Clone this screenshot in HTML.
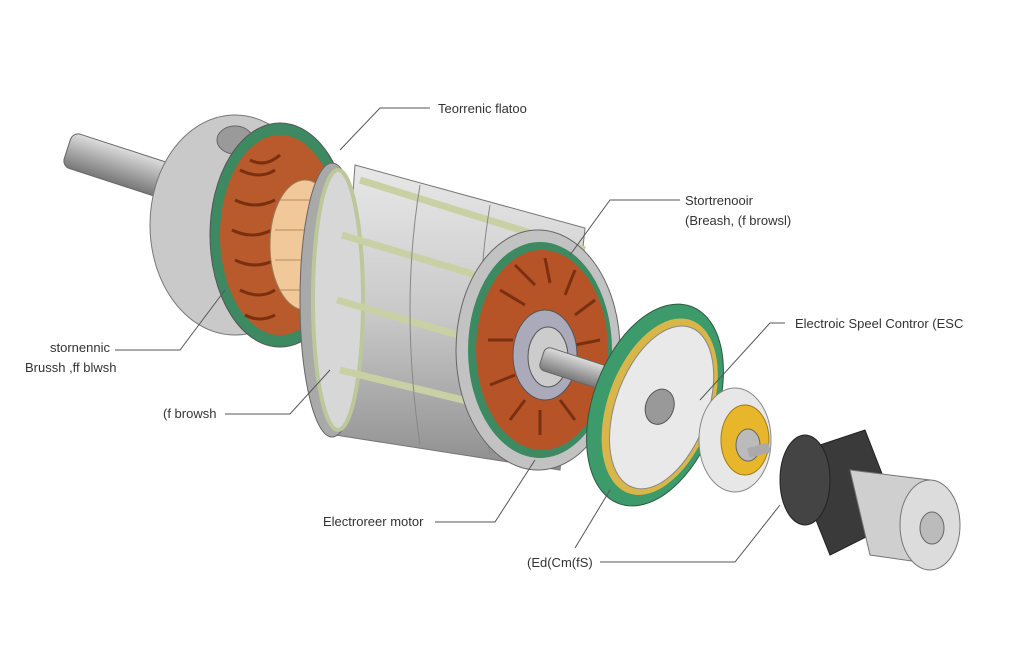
<!DOCTYPE html>
<html><head><style>
body{margin:0;background:#fff;width:1035px;height:665px;overflow:hidden}
svg{display:block}
text{font-family:"Liberation Sans",sans-serif;font-size:13px;fill:#333}
</style></head><body>
<svg width="1035" height="665" viewBox="0 0 1035 665">
<defs>
<linearGradient id="g1" x1="0" y1="0" x2="0" y2="1"><stop offset="0" stop-color="#e8e8e8"/><stop offset=".5" stop-color="#c8c8c8"/><stop offset="1" stop-color="#8e8e8e"/></linearGradient>
<linearGradient id="sh" x1="0" y1="0" x2="0" y2="1"><stop offset="0" stop-color="#ddd"/><stop offset=".5" stop-color="#aaa"/><stop offset="1" stop-color="#777"/></linearGradient>
</defs>
<!-- left shaft -->
<g transform="rotate(18 120 165)"><rect x="65" y="148" width="110" height="36" rx="8" fill="url(#sh)" stroke="#666"/></g>
<!-- left end cap body -->
<ellipse cx="235" cy="225" rx="85" ry="110" fill="#c9c9c9" stroke="#777"/>
<ellipse cx="235" cy="140" rx="18" ry="14" fill="#9a9a9a" stroke="#666"/>
<ellipse cx="280" cy="235" rx="70" ry="112" fill="#3d8a62" stroke="#555"/>
<ellipse cx="280" cy="235" rx="60" ry="100" fill="#b85a2b"/>
<g stroke="#7a3010" stroke-width="3" fill="none">
<path d="M240 170 q20 10 35 0 M235 200 q20 10 40 0 M232 230 q20 10 40 0 M235 260 q20 10 40 0 M240 290 q20 10 35 0 M250 160 q15 8 30 -5 M245 315 q15 8 30 0"/></g>
<!-- commutator -->
<ellipse cx="305" cy="245" rx="35" ry="65" fill="#f0c89a" stroke="#9b7a55"/>
<g stroke="#b98d60"><line x1="280" y1="200" x2="330" y2="200"/><line x1="275" y1="230" x2="335" y2="230"/><line x1="275" y1="260" x2="335" y2="260"/><line x1="280" y1="290" x2="330" y2="290"/></g>
<!-- stator body -->
<path d="M355 165 L585 228 L560 470 L335 435 Z" fill="url(#g1)" stroke="#777"/>
<ellipse cx="332" cy="300" rx="32" ry="137" fill="#a9a9a9" stroke="#666"/>
<ellipse cx="338" cy="300" rx="25" ry="130" fill="#d7d7d7" stroke="#bcc79a" stroke-width="4"/>
<g stroke="#c9d1a4" stroke-width="7" fill="none">
<line x1="360" y1="180" x2="585" y2="250"/><line x1="342" y1="235" x2="560" y2="300"/>
<line x1="337" y1="300" x2="545" y2="360"/><line x1="340" y1="370" x2="545" y2="420"/>
</g>
<g stroke="#888" fill="none"><path d="M420 185 q-20 120 0 260 M490 205 q-20 120 0 250"/></g>
<!-- right face -->
<ellipse cx="538" cy="350" rx="82" ry="120" fill="#c2c2c2" stroke="#666"/>
<ellipse cx="540" cy="350" rx="72" ry="108" fill="#3d8a62"/>
<ellipse cx="542" cy="350" rx="66" ry="100" fill="#b65428"/>
<g stroke="#7a3010" stroke-width="3" fill="none">
<path d="M500 290 l25 15 M515 265 l20 20 M545 258 l5 25 M575 270 l-10 25 M595 300 l-20 15 M600 340 l-25 5 M595 380 l-25 -5 M575 420 l-15 -20 M540 435 l0 -25 M510 420 l15 -20 M490 385 l25 -10 M488 340 l25 0"/></g>
<ellipse cx="545" cy="355" rx="32" ry="45" fill="#aab" stroke="#555"/>
<ellipse cx="548" cy="357" rx="20" ry="30" fill="#ccc" stroke="#555"/>
<g transform="rotate(18 580 370)"><rect x="540" y="358" width="75" height="24" rx="6" fill="url(#sh)" stroke="#666"/></g>
<!-- disc -->
<g transform="rotate(20 655 405)">
<ellipse cx="655" cy="405" rx="62" ry="105" fill="#3d9a6a" stroke="#2d5a40"/>
<ellipse cx="660" cy="405" rx="52" ry="92" fill="#d9b64a"/>
<ellipse cx="662" cy="405" rx="46" ry="85" fill="#e9e9e9" stroke="#888"/>
<ellipse cx="660" cy="405" rx="14" ry="18" fill="#999" stroke="#555"/>
</g>
<!-- gear -->
<ellipse cx="735" cy="440" rx="36" ry="52" fill="#e7e7e7" stroke="#888"/>
<ellipse cx="745" cy="440" rx="24" ry="35" fill="#e8b62a" stroke="#a07a10"/>
<ellipse cx="748" cy="445" rx="12" ry="16" fill="#bbb" stroke="#666"/>
<rect x="748" y="445" width="22" height="10" fill="#aaa" transform="rotate(-15 760 450)"/>
<!-- end unit -->
<path d="M790 455 L865 430 L900 520 L830 555 Z" fill="#3a3a3a" stroke="#222"/>
<ellipse cx="805" cy="480" rx="25" ry="45" fill="#444" stroke="#222"/>
<path d="M850 470 L930 480 L940 565 L870 555 Z" fill="#cfcfcf" stroke="#777"/>
<ellipse cx="930" cy="525" rx="30" ry="45" fill="#dcdcdc" stroke="#777"/>
<ellipse cx="932" cy="528" rx="12" ry="16" fill="#bbb" stroke="#666"/>
<!-- leaders -->
<g stroke="#555" fill="none" stroke-width="1">
<polyline points="430,108 380,108 340,150"/>
<polyline points="680,200 610,200 570,255"/>
<polyline points="785,323 770,323 700,400"/>
<polyline points="115,350 180,350 225,290"/>
<polyline points="225,414 290,414 330,370"/>
<polyline points="435,522 495,522 535,460"/>
<polyline points="600,562 735,562 780,505"/>
<polyline points="575,548 610,490"/>
</g>
<text x="438" y="113">Teorrenic flatoo</text>
<text x="685" y="205">Stortrenooir</text>
<text x="685" y="225">(Breash, (f browsl)</text>
<text x="795" y="328">Electroic Speel Contror (ESC</text>
<text x="50" y="352">stornennic</text>
<text x="25" y="372">Brussh ,ff blwsh</text>
<text x="163" y="418">(f browsh</text>
<text x="323" y="526">Electroreer motor</text>
<text x="527" y="567">(Ed(Cm(fS)</text>
</svg>
</body></html>
